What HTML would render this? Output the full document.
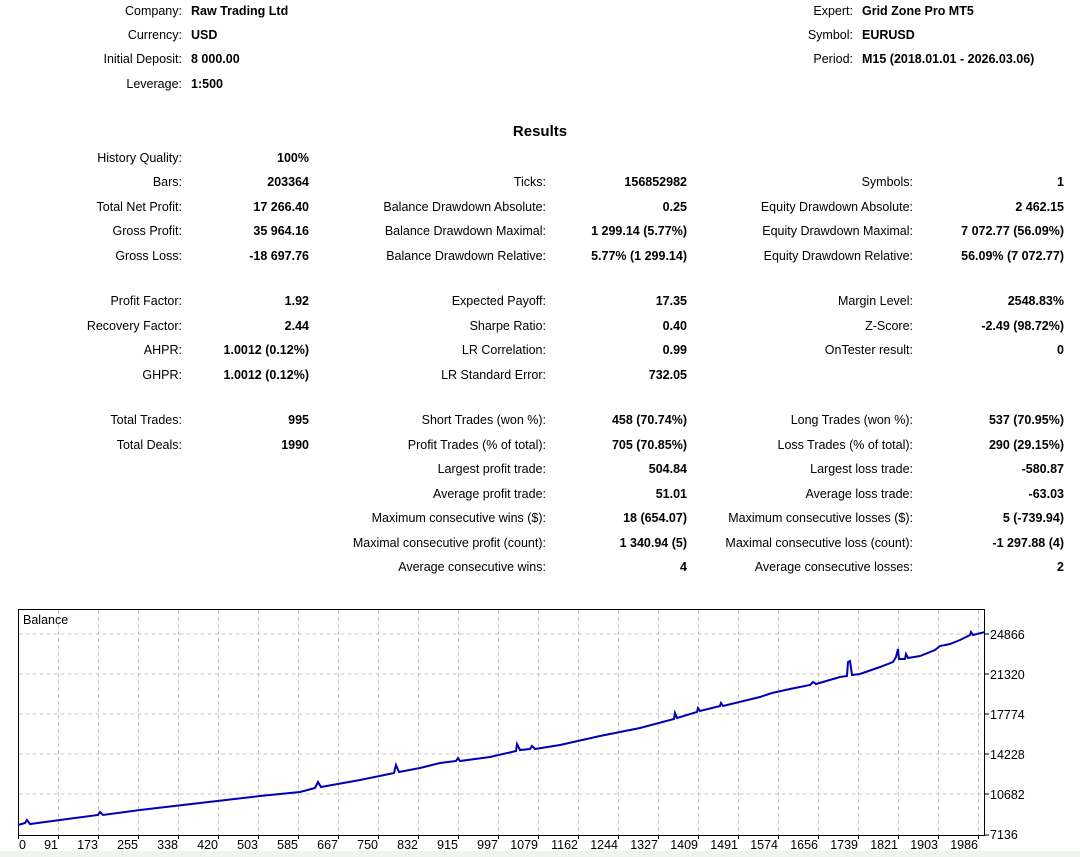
<!DOCTYPE html>
<html><head><meta charset="utf-8"><style>
body{margin:0;width:1080px;height:857px;background:#fff;position:relative;overflow:hidden;font-family:"Liberation Sans",sans-serif;font-size:12.5px;color:#000}
.l,.v,.r{position:absolute;height:16px;line-height:16px;white-space:nowrap}
.l{text-align:right;width:300px}
.v{font-weight:bold}
.r{font-weight:bold;text-align:right;width:200px}
</style></head><body>
<div class="l" style="left:-118px;top:3px">Company:</div><div class="v" style="left:191px;top:3px">Raw Trading Ltd</div>
<div class="l" style="left:-118px;top:27px">Currency:</div><div class="v" style="left:191px;top:27px">USD</div>
<div class="l" style="left:-118px;top:51px">Initial Deposit:</div><div class="v" style="left:191px;top:51px">8 000.00</div>
<div class="l" style="left:-118px;top:76px">Leverage:</div><div class="v" style="left:191px;top:76px">1:500</div>
<div class="l" style="left:553px;top:3px">Expert:</div><div class="v" style="left:862px;top:3px">Grid Zone Pro MT5</div>
<div class="l" style="left:553px;top:27px">Symbol:</div><div class="v" style="left:862px;top:27px">EURUSD</div>
<div class="l" style="left:553px;top:51px">Period:</div><div class="v" style="left:862px;top:51px">M15 (2018.01.01 - 2026.03.06)</div>
<div style="position:absolute;left:0;width:1080px;top:122px;text-align:center;font-weight:bold;font-size:15px;line-height:20px">Results</div>

<div class="l" style="left:-118px;top:150px">History Quality:</div><div class="r" style="left:109px;top:150px">100%</div>
<div class="l" style="left:-118px;top:174px">Bars:</div><div class="r" style="left:109px;top:174px">203364</div>
<div class="l" style="left:-118px;top:199px">Total Net Profit:</div><div class="r" style="left:109px;top:199px">17 266.40</div>
<div class="l" style="left:-118px;top:223px">Gross Profit:</div><div class="r" style="left:109px;top:223px">35 964.16</div>
<div class="l" style="left:-118px;top:248px">Gross Loss:</div><div class="r" style="left:109px;top:248px">-18 697.76</div>
<div class="l" style="left:-118px;top:293px">Profit Factor:</div><div class="r" style="left:109px;top:293px">1.92</div>
<div class="l" style="left:-118px;top:318px">Recovery Factor:</div><div class="r" style="left:109px;top:318px">2.44</div>
<div class="l" style="left:-118px;top:342px">AHPR:</div><div class="r" style="left:109px;top:342px">1.0012 (0.12%)</div>
<div class="l" style="left:-118px;top:367px">GHPR:</div><div class="r" style="left:109px;top:367px">1.0012 (0.12%)</div>
<div class="l" style="left:-118px;top:412px">Total Trades:</div><div class="r" style="left:109px;top:412px">995</div>
<div class="l" style="left:-118px;top:437px">Total Deals:</div><div class="r" style="left:109px;top:437px">1990</div>

<div class="l" style="left:246px;top:174px">Ticks:</div><div class="r" style="left:487px;top:174px">156852982</div>
<div class="l" style="left:246px;top:199px">Balance Drawdown Absolute:</div><div class="r" style="left:487px;top:199px">0.25</div>
<div class="l" style="left:246px;top:223px">Balance Drawdown Maximal:</div><div class="r" style="left:487px;top:223px">1 299.14 (5.77%)</div>
<div class="l" style="left:246px;top:248px">Balance Drawdown Relative:</div><div class="r" style="left:487px;top:248px">5.77% (1 299.14)</div>
<div class="l" style="left:246px;top:293px">Expected Payoff:</div><div class="r" style="left:487px;top:293px">17.35</div>
<div class="l" style="left:246px;top:318px">Sharpe Ratio:</div><div class="r" style="left:487px;top:318px">0.40</div>
<div class="l" style="left:246px;top:342px">LR Correlation:</div><div class="r" style="left:487px;top:342px">0.99</div>
<div class="l" style="left:246px;top:367px">LR Standard Error:</div><div class="r" style="left:487px;top:367px">732.05</div>
<div class="l" style="left:246px;top:412px">Short Trades (won %):</div><div class="r" style="left:487px;top:412px">458 (70.74%)</div>
<div class="l" style="left:246px;top:437px">Profit Trades (% of total):</div><div class="r" style="left:487px;top:437px">705 (70.85%)</div>
<div class="l" style="left:246px;top:461px">Largest profit trade:</div><div class="r" style="left:487px;top:461px">504.84</div>
<div class="l" style="left:246px;top:486px">Average profit trade:</div><div class="r" style="left:487px;top:486px">51.01</div>
<div class="l" style="left:246px;top:510px">Maximum consecutive wins ($):</div><div class="r" style="left:487px;top:510px">18 (654.07)</div>
<div class="l" style="left:246px;top:535px">Maximal consecutive profit (count):</div><div class="r" style="left:487px;top:535px">1 340.94 (5)</div>
<div class="l" style="left:246px;top:559px">Average consecutive wins:</div><div class="r" style="left:487px;top:559px">4</div>

<div class="l" style="left:613px;top:174px">Symbols:</div><div class="r" style="left:864px;top:174px">1</div>
<div class="l" style="left:613px;top:199px">Equity Drawdown Absolute:</div><div class="r" style="left:864px;top:199px">2 462.15</div>
<div class="l" style="left:613px;top:223px">Equity Drawdown Maximal:</div><div class="r" style="left:864px;top:223px">7 072.77 (56.09%)</div>
<div class="l" style="left:613px;top:248px">Equity Drawdown Relative:</div><div class="r" style="left:864px;top:248px">56.09% (7 072.77)</div>
<div class="l" style="left:613px;top:293px">Margin Level:</div><div class="r" style="left:864px;top:293px">2548.83%</div>
<div class="l" style="left:613px;top:318px">Z-Score:</div><div class="r" style="left:864px;top:318px">-2.49 (98.72%)</div>
<div class="l" style="left:613px;top:342px">OnTester result:</div><div class="r" style="left:864px;top:342px">0</div>
<div class="l" style="left:613px;top:412px">Long Trades (won %):</div><div class="r" style="left:864px;top:412px">537 (70.95%)</div>
<div class="l" style="left:613px;top:437px">Loss Trades (% of total):</div><div class="r" style="left:864px;top:437px">290 (29.15%)</div>
<div class="l" style="left:613px;top:461px">Largest loss trade:</div><div class="r" style="left:864px;top:461px">-580.87</div>
<div class="l" style="left:613px;top:486px">Average loss trade:</div><div class="r" style="left:864px;top:486px">-63.03</div>
<div class="l" style="left:613px;top:510px">Maximum consecutive losses ($):</div><div class="r" style="left:864px;top:510px">5 (-739.94)</div>
<div class="l" style="left:613px;top:535px">Maximal consecutive loss (count):</div><div class="r" style="left:864px;top:535px">-1 297.88 (4)</div>
<div class="l" style="left:613px;top:559px">Average consecutive losses:</div><div class="r" style="left:864px;top:559px">2</div>

<svg style="position:absolute;left:0;top:600px" width="1080" height="257" font-family="Liberation Sans, sans-serif" font-size="12.5">
<rect x="0" y="251" width="1080" height="6" fill="#eef5ee"/>
<g stroke="#c8c8c8" stroke-dasharray="4,3" stroke-width="1">
<path d="M18.5 34H985M18.5 74H985M18.5 114H985M18.5 154H985M18.5 194H985"/>
<path d="M58.5 10V235M98.5 10V235M138.5 10V235M178.5 10V235M218.5 10V235M258.5 10V235M298.5 10V235M338.5 10V235M378.5 10V235M418.5 10V235M458.5 10V235M498.5 10V235M538.5 10V235M578.5 10V235M618.5 10V235M658.5 10V235M698.5 10V235M738.5 10V235M778.5 10V235M818.5 10V235M858.5 10V235M898.5 10V235M938.5 10V235M978.5 10V235"/>
</g>
<rect x="18.5" y="9.5" width="966" height="226" fill="none" stroke="#000"/>
<g stroke="#000"><path d="M985 34h4M985 74h4M985 114h4M985 154h4M985 194h4M985 235h4"/>
<path d="M18.5 235v4M58.5 235v4M98.5 235v4M138.5 235v4M178.5 235v4M218.5 235v4M258.5 235v4M298.5 235v4M338.5 235v4M378.5 235v4M418.5 235v4M458.5 235v4M498.5 235v4M538.5 235v4M578.5 235v4M618.5 235v4M658.5 235v4M698.5 235v4M738.5 235v4M778.5 235v4M818.5 235v4M858.5 235v4M898.5 235v4M938.5 235v4M978.5 235v4"/></g>
<text x="23" y="24">Balance</text>
<polyline fill="none" stroke="#0000b4" stroke-width="2" points="18,225 25,223 27,220 30,224 60,220 98,215 100,212 103,215 140,210 200,203 260,196 300,192 315,188 318,182 321,187 360,180 394,173 396,165 399,172 420,168 440,163 456,161 458,158 460,161 490,157 516,151 517,144 520,150 530,149 532,146 535,149 560,145 600,136 640,128 674,119 675,113 677,118 697,112 698,108 700,111 720,106 721,103 723,106 760,97 772,93 790,89 810,85 813,82 816,84 840,77 847,76 848,62 850,61 852,75 860,74 880,67 893,62 896,57 898,49 899,59 905,59 906,54 908,58 920,56 935,50 940,46 950,44 960,40 970,35 971,32 973,35 985,32"/>
<g text-anchor="start">
<text x="990" y="39">24866</text><text x="990" y="79">21320</text><text x="990" y="119">17774</text><text x="990" y="159">14228</text><text x="990" y="199">10682</text><text x="990" y="239">7136</text>
</g>
<g text-anchor="end">
<text x="26" y="249">0</text><text x="58" y="249">91</text><text x="98" y="249">173</text><text x="138" y="249">255</text><text x="178" y="249">338</text><text x="218" y="249">420</text><text x="258" y="249">503</text><text x="298" y="249">585</text><text x="338" y="249">667</text><text x="378" y="249">750</text><text x="418" y="249">832</text><text x="458" y="249">915</text><text x="498" y="249">997</text><text x="538" y="249">1079</text><text x="578" y="249">1162</text><text x="618" y="249">1244</text><text x="658" y="249">1327</text><text x="698" y="249">1409</text><text x="738" y="249">1491</text><text x="778" y="249">1574</text><text x="818" y="249">1656</text><text x="858" y="249">1739</text><text x="898" y="249">1821</text><text x="938" y="249">1903</text><text x="978" y="249">1986</text>
</g>
</svg>
</body></html>
